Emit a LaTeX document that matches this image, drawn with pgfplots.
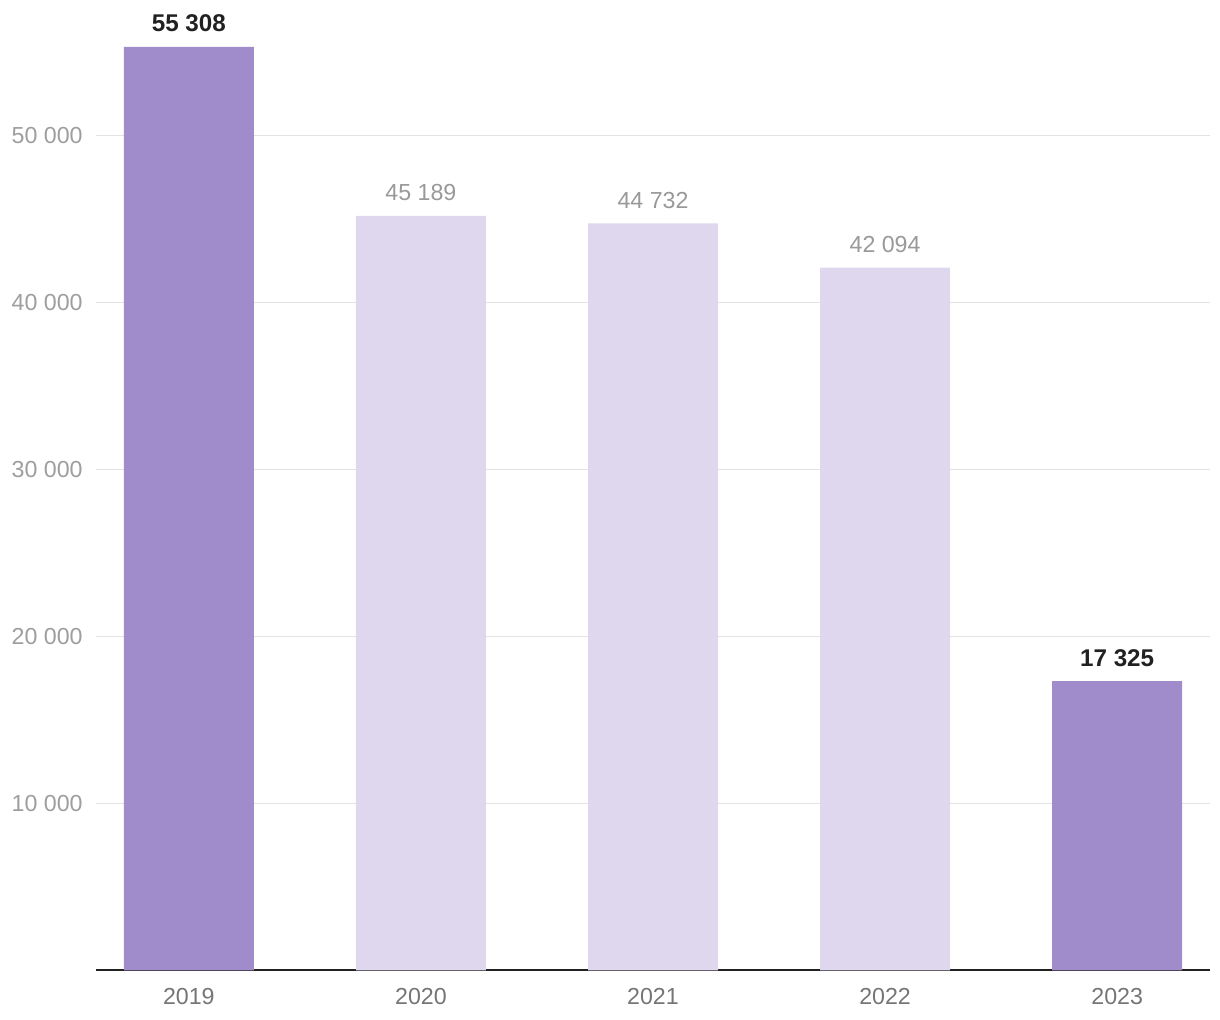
\documentclass[border=0pt]{standalone}
\usepackage{pgfplots}
\pgfplotsset{compat=1.18}
\usepackage{fontspec}
\setmainfont{Liberation Sans}
\definecolor{barDark}{HTML}{A08BCB}
\definecolor{barLight}{HTML}{DED7ED}
\definecolor{gridC}{HTML}{E2E2E2}
\definecolor{ytickC}{HTML}{9E9E9E}
\definecolor{xtickC}{HTML}{757575}
\definecolor{valGray}{HTML}{999999}
\definecolor{valDark}{HTML}{212121}
\begin{document}
\begin{tikzpicture}
\useasboundingbox (-48pt,-24.75pt) rectangle (562pt,485.25pt);
\begin{axis}[
  scale only axis,
  width=557pt, height=475.95pt,
  xmin=-0.4, xmax=4.4,
  ymin=0, ymax=57000,
  clip=false,
  axis x line*=bottom,
  axis y line*=left,
  y axis line style={draw=none},
  x axis line style={draw=valDark, line width=1pt},
  major tick length=0pt,
  xtick={0,1,2,3,4},
  xticklabels={2019,2020,2021,2022,2023},
  ytick={10000,20000,30000,40000,50000},
  yticklabels={10 000,20 000,30 000,40 000,50 000},
  ymajorgrids,
  major grid style={draw=gridC, line width=0.6pt},
  font=\fontsize{11.6pt}{13pt}\selectfont,
  yticklabel style={anchor=east, inner sep=0pt, xshift=-6.5pt, text=ytickC, font=\fontsize{11.6pt}{13pt}\selectfont},
  xticklabel style={anchor=base, inner sep=0pt, yshift=-17pt, text=xtickC, font=\fontsize{11.6pt}{13pt}\selectfont},
  ybar, bar width=65pt, bar shift=0pt,
  point meta=explicit symbolic,
  nodes near coords,
  every node near coord/.append style={anchor=base, inner sep=0pt, yshift=7.5pt, font=\fontsize{11.6pt}{13pt}\selectfont},
]
\addplot[fill=barDark, draw=none, every node near coord/.append style={text=valDark, font=\fontsize{12.1pt}{13pt}\selectfont\bfseries}]
  coordinates {(0,55308) [55 308] (4,17325) [17 325]};
\addplot[fill=barLight, draw=none, every node near coord/.append style={text=valGray}]
  coordinates {(1,45189) [45 189] (2,44732) [44 732] (3,42094) [42 094]};
\end{axis}
\end{tikzpicture}
\end{document}
